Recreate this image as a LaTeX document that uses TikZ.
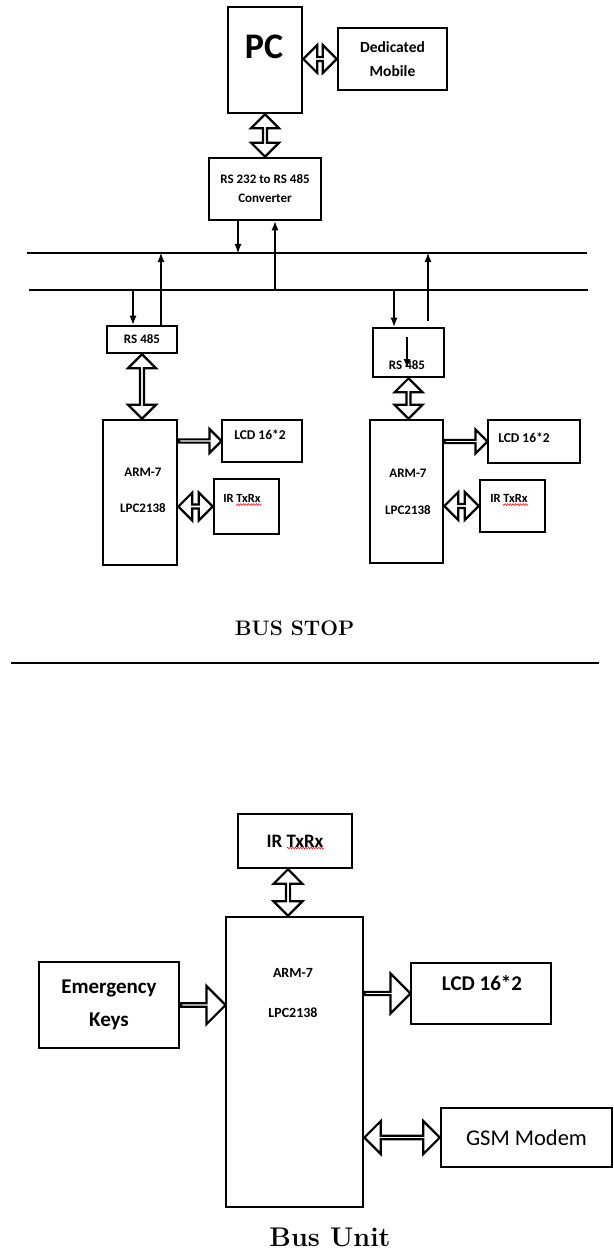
\documentclass[tikz,border=0pt]{standalone}
\usepackage{fontspec}
\usepackage{tikz}
\usetikzlibrary{arrows.meta, calc, shapes.arrows, decorations.pathmorphing}
\newfontfamily\calib{Carlito}
\newcommand\fsz[2]{\fontsize{#1}{#2}\selectfont}

\tikzset{
  blk/.style={draw, line width=2.6pt, inner sep=0pt},
  txt/.style={inner sep=0pt, align=center},
  fatboth/.style={double arrow, draw, line width=2.2pt, fill=white, inner sep=0pt,
    double arrow head extend=6.5pt, minimum width=28pt},
  fatone/.style={single arrow, draw, line width=2.2pt, fill=white, inner sep=0pt,
    single arrow head extend=7pt, minimum width=24pt},
  bus/.style={line width=1.4pt},
  sig/.style={->, line width=1.1pt},
  squig/.style={red, line width=0.5pt, decorate,
    decoration={zigzag, amplitude=0.9pt, segment length=2.6pt}}
}
% broad hollow arrow from one anchor to another
\newcommand\fatlink[3]{%
  \path let \p1=(#2), \p2=(#3),
    \n1={veclen(\x2-\x1,\y2-\y1)}, \n2={atan2(\y2-\y1,\x2-\x1)} in
    node[#1, minimum height=\n1, rotate=\n2] at ($(\p1)!.5!(\p2)$) {};}

\begin{document}
\begin{tikzpicture}[x=1pt, y=-1pt, >={Latex[length=9pt,width=7pt]}]
\useasboundingbox (0,0) rectangle (613,1257);

% ---------- bus stop ----------
\node[blk, minimum width=74, minimum height=106] (pc) at (265,60) {};
\node[txt, font=\calib\bfseries\fsz{36}{36}] (pct) at (264,47) {PC};
\node[blk, minimum width=109, minimum height=62, font=\calib\bfseries\fsz{15.5}{24}, align=center]
  (mobile) at (392.5,59) {Dedicated\\Mobile};
\node[blk, minimum width=112, minimum height=62, font=\calib\bfseries\fsz{13}{19}, align=center]
  (conv) at (265,189) {RS 232 to RS 485\\Converter};

\coordinate (b1w) at (27,253);
\coordinate (b1e) at (587,253);
\coordinate (b2w) at (29,290);
\coordinate (b2e) at (588,290);
\draw[bus] (b1w) -- (b1e);
\draw[bus] (b2w) -- (b2e);

\node[blk, minimum width=70, minimum height=27, font=\calib\bfseries\fsz{13}{13}]
  (rs1) at (142,339.5) {RS 485};
\node[blk, minimum width=71, minimum height=49] (rs2) at (408.5,352.5) {};
\node[txt, font=\calib\bfseries\fsz{13}{13}] (rs2t) at (407,365) {RS 485};

\node[blk, minimum width=74, minimum height=145] (arm1) at (140,492.5) {};
\node[txt, font=\calib\bfseries\fsz{13}{13}] (arm1a) at (143,472) {ARM-7};
\node[txt, font=\calib\bfseries\fsz{13}{13}] (arm1b) at (143,508) {LPC2138};
\node[blk, minimum width=73, minimum height=143] (arm2) at (406.5,491.5) {};
\node[txt, font=\calib\bfseries\fsz{13}{13}] (arm2a) at (408,473) {ARM-7};
\node[txt, font=\calib\bfseries\fsz{13}{13}] (arm2b) at (408,510) {LPC2138};

\node[blk, minimum width=80, minimum height=42] (lcd1) at (262,441) {};
\node[txt, font=\calib\bfseries\fsz{13.5}{13.5}] (lcd1t) at (260,435) {LCD 16*2};
\node[blk, minimum width=92, minimum height=43] (lcd2) at (534,441.5) {};
\node[txt, font=\calib\bfseries\fsz{13.5}{13.5}] (lcd2t) at (524,438) {LCD 16*2};

\node[blk, minimum width=65, minimum height=55] (ir1) at (246.5,506.5) {};
\node[txt, font=\calib\bfseries\fsz{12.5}{12.5}] (ir1t) at (242,498) {IR TxRx};
\node[blk, minimum width=65, minimum height=52] (ir2) at (512.5,506) {};
\node[txt, font=\calib\bfseries\fsz{12.5}{12.5}] (ir2t) at (509,498) {IR TxRx};
\draw[squig] ([yshift=-2.5pt]ir1t.base east) -- ++(-25,0);
\draw[squig] ([yshift=-2.5pt]ir2t.base east) -- ++(-25,0);

% bus taps
\draw[sig] ([xshift=-27pt]conv.south) -- ([xshift=-27pt]conv.south |- b1w);
\draw[sig] ([xshift=10pt]conv.south |- b2w) -- ([xshift=10pt]conv.south);
\draw[sig] ([xshift=-9pt]rs1.north |- b2w) -- ([xshift=-9pt]rs1.north);
\draw[sig] ([xshift=19pt]rs1.north) -- ([xshift=19pt]rs1.north |- b1w);
\draw[sig] ([xshift=-14.5pt]rs2.north |- b2w) -- ([xshift=-14.5pt]rs2.north);
\draw[sig] ([xshift=19.5pt,yshift=6pt]rs2.north) -- ([xshift=19.5pt]rs2.north |- b1w);
\coordinate (in2a) at (407,337);
\coordinate (in2b) at (407,368);
\draw[sig] (in2a) -- (in2b);

% broad arrows
\fatlink{fatboth}{pc.east |- mobile.west}{mobile.west}
\fatlink{fatboth}{pc.south}{conv.north}
\fatlink{fatboth}{rs1.south}{rs1.south |- arm1.north}
\fatlink{fatboth}{rs2.south}{rs2.south |- arm2.north}
\fatlink{fatone}{arm1.east |- lcd1.west}{lcd1.west}
\fatlink{fatboth}{arm1.east |- ir1.west}{ir1.west}
\fatlink{fatone}{arm2.east |- lcd2.west}{lcd2.west}
\fatlink{fatboth}{arm2.east |- ir2.west}{ir2.west}

\node[txt, font=\bfseries\fsz{21}{21}] (stop) at (294.5,628) {BUS STOP};
\coordinate (rl) at (11,663);
\coordinate (rr) at (599,663);
\draw[line width=2pt] (rl) -- (rr);

% ---------- bus unit ----------
\node[blk, minimum width=114, minimum height=54, font=\calib\bfseries\fsz{19}{19}]
  (ir3) at (295,841) {IR TxRx};
\draw[squig] ([yshift=-3pt]ir3.center) ++(-8,4) -- ++(37,0);
\node[blk, minimum width=137, minimum height=290] (arm3) at (294.5,1062) {};
\node[txt, font=\calib\bfseries\fsz{14}{14}] (arm3a) at (293,973) {ARM-7};
\node[txt, font=\calib\bfseries\fsz{14}{14}] (arm3b) at (293,1013) {LPC2138};
\node[blk, minimum width=140, minimum height=86, font=\calib\bfseries\fsz{21}{33}, align=center]
  (keys) at (109,1005) {Emergency\\Keys};
\node[blk, minimum width=140, minimum height=61] (lcd3) at (481,993.5) {};
\node[txt, font=\calib\bfseries\fsz{21}{21}] (lcd3t) at (482,983) {LCD 16*2};
\node[blk, line width=2.4pt, minimum width=171, minimum height=59, font=\calib\fsz{22.5}{22.5}]
  (gsm) at (526.5,1137.5) {GSM Modem};

\fatlink{fatboth, minimum width=29pt}{[xshift=-7pt]ir3.south}{[xshift=-7pt]ir3.south |- arm3.north}
\fatlink{fatone, minimum width=38pt, single arrow head extend=11pt}{keys.east}{keys.east -| arm3.west}
\fatlink{fatone, minimum width=40pt, single arrow head extend=12.5pt}{arm3.east |- lcd3.west}{lcd3.west}
\fatlink{fatboth, minimum width=33pt, double arrow head extend=9pt}{arm3.east |- gsm.west}{gsm.west}

\node[txt, font=\bfseries\fsz{27}{27}] (unit) at (330,1237) {Bus Unit};
\end{tikzpicture}
\end{document}
